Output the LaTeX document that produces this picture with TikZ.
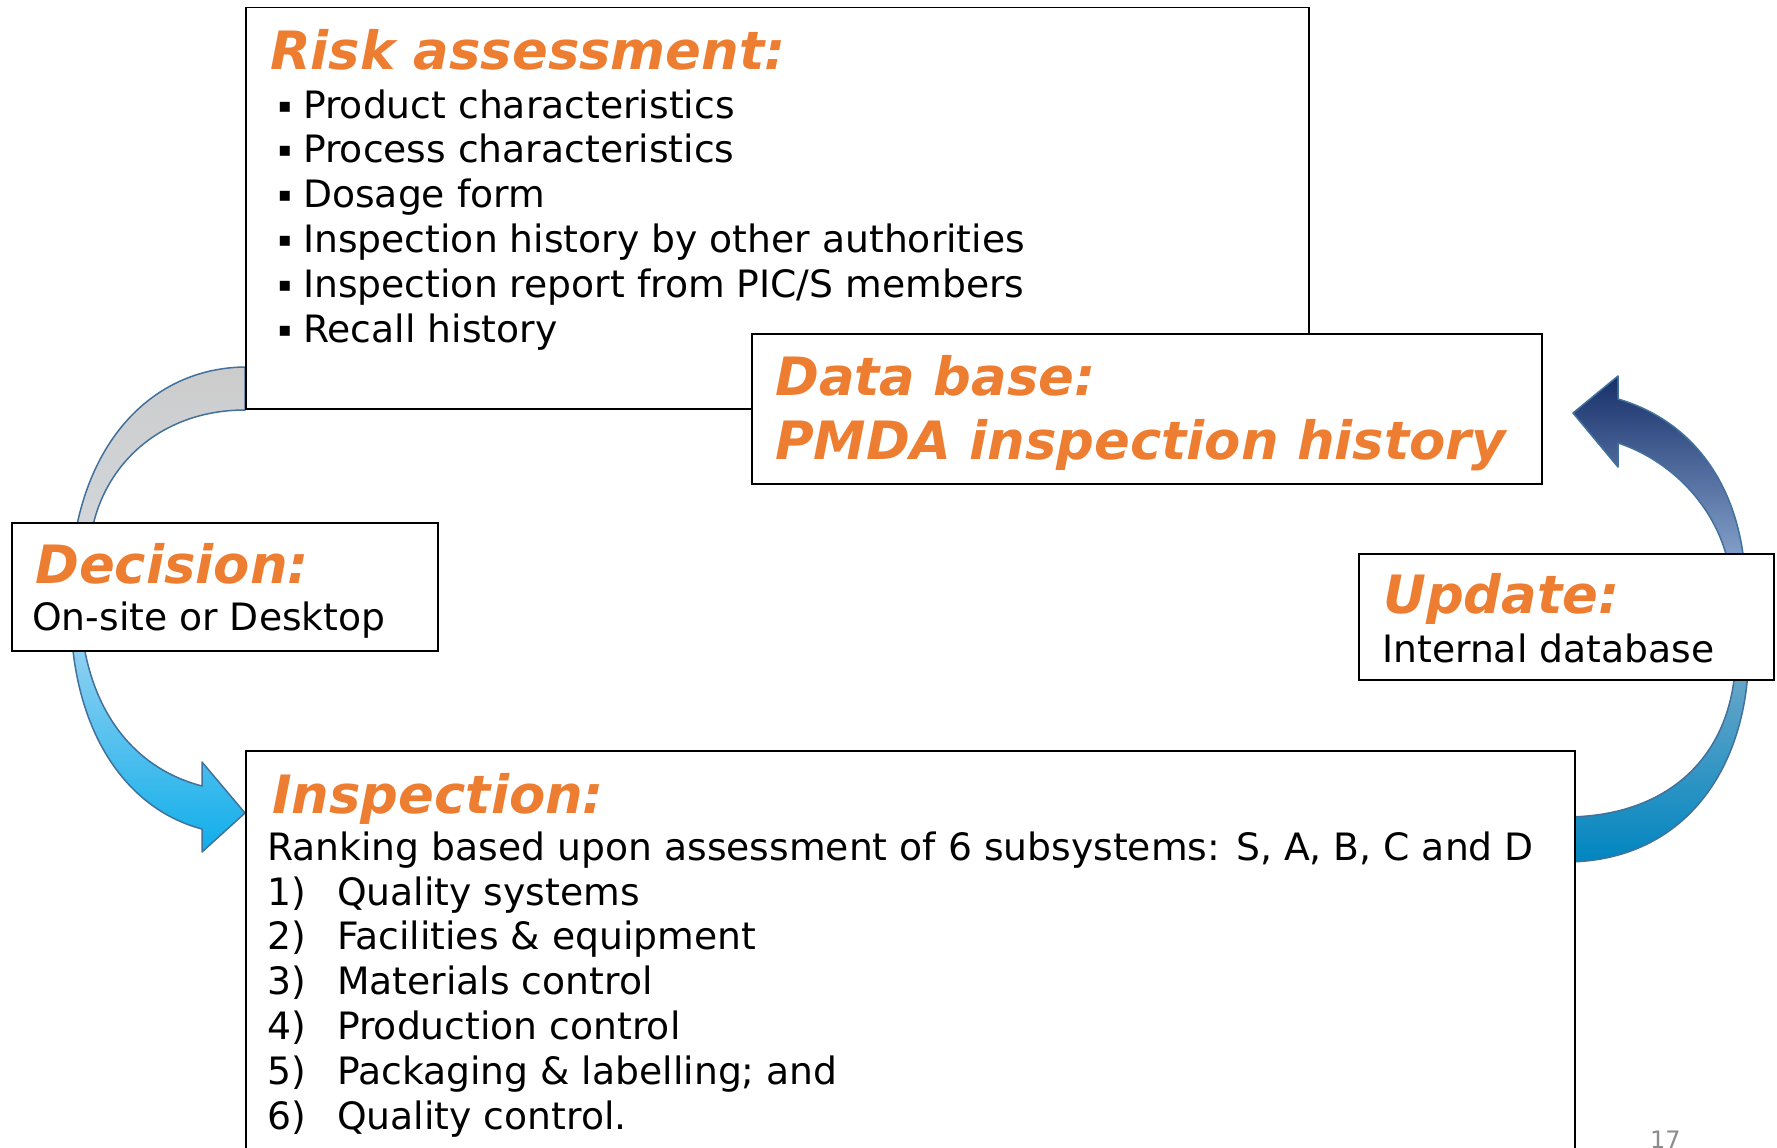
\documentclass[tikz,border=0pt]{standalone}
\usepackage{fontspec}
\setmainfont{DejaVu Sans}
\definecolor{hdorange}{HTML}{ED7D31}
\definecolor{arrline}{HTML}{41719C}
\definecolor{pgnum}{HTML}{8C8C8C}
\begin{document}
\begin{tikzpicture}[x=1pt,y=-1pt,
  box/.style={draw=black, line width=1.5pt, fill=white, inner sep=0pt, anchor=north west},
  head/.style={text=hdorange, font=\fontsize{52.8}{52.8}\selectfont\bfseries\itshape, anchor=base west, inner sep=0pt},
  body/.style={text=black, font=\fontsize{37.7}{37.7}\selectfont, anchor=base west, inner sep=0pt},
  bul/.style={text=black, font=\fontsize{20}{20}\selectfont, anchor=base west, inner sep=0pt},
  arrowshape/.style={draw=arrline, line width=1.5pt, line join=round}]
\clip (0,0) rectangle (1777,1148);
\fill[white] (0,0) rectangle (1777,1148);

% curved arrows (behind the boxes)
\path[arrowshape, top color=black!20, bottom color=arrline!45!black!20]
  (245,367) .. controls (160,368) and (95,430) .. (76,530)
  -- (92,530) .. controls (106,460) and (165,410) .. (245,410) -- cycle;
\path[arrowshape, top color={rgb,255:red,150;green,210;blue,242}, bottom color={rgb,255:red,14;green,174;blue,234}]
  (72,640) .. controls (80,740) and (130,810) .. (202,829)
  -- (202,852) -- (245,813) -- (202,762) -- (202,786)
  .. controls (140,770) and (95,720) .. (83,640) -- cycle;
\path[arrowshape, top color={rgb,255:red,107;green,167;blue,201}, bottom color={rgb,255:red,0;green,134;blue,192}]
  (1565,862) .. controls (1680,862) and (1742,775) .. (1748,670)
  -- (1735,670) .. controls (1728,760) and (1665,817) .. (1565,817) -- cycle;
\path[arrowshape, top color={rgb,255:red,23;green,48;blue,106}, bottom color={rgb,255:red,134;green,163;blue,204}]
  (1744,562) .. controls (1735,480) and (1690,420) .. (1618,399)
  -- (1618,376) -- (1573,413) -- (1618,467) -- (1618,443)
  .. controls (1670,460) and (1715,505) .. (1728,562) -- cycle;

% boxes
\node[box, minimum width=1063pt, minimum height=401pt] (risk) at (245,7) {};
\node[box, minimum width=790pt, minimum height=150pt] (dbase) at (751,333) {};
\node[box, minimum width=426pt, minimum height=128pt] (decision) at (11,522) {};
\node[box, minimum width=415pt, minimum height=126pt] (update) at (1358,553) {};
\node[box, minimum width=1329pt, minimum height=420pt] (inspect) at (245,750) {};

% risk assessment text
\node[head] (riskhd) at (270,70) {Risk assessment:};
\foreach \t [count=\i from 0] in {Product characteristics, Process characteristics, Dosage form, Inspection history by other authorities, Inspection report from PIC/S members, Recall history}{
  \node[bul] (rb\i) at (278,118+44.8*\i) {\raisebox{6pt}{▪}};
  \node[body] (rt\i) at (303,118+44.8*\i) {\t};
}

% data base text
\node[head] (dbhd) at (775,395) {Data base:};
\node[head] (dbhd2) at (775,459) {PMDA inspection history};

% decision text
\node[head] (dechd) at (35,583) {Decision:};
\node[body] (dectx) at (32,630) {On-site or Desktop};

% update text
\node[head] (uphd) at (1383,613) {Update:};
\node[body] (uptx) at (1382,662) {Internal database};

% inspection text
\node[head] (inshd) at (272,813) {Inspection:};
\node[body] (instx) at (267,860) {Ranking based upon assessment of 6 subsystems: S, A, B, C and D};
\foreach \t [count=\i from 1] in {Quality systems, Facilities \& equipment, Materials control, Production control, Packaging \& labelling; and, Quality control.}{
  \node[body] (in\i) at (267,905+44.8*\i-44.8) {\i)};
  \node[body] (it\i) at (337,905+44.8*\i-44.8) {\t};
}

% page number
\node[anchor=base west, inner sep=0pt, text=pgnum, font=\fontsize{24}{24}\selectfont] (pg) at (1650,1148) {17};
\end{tikzpicture}
\end{document}
